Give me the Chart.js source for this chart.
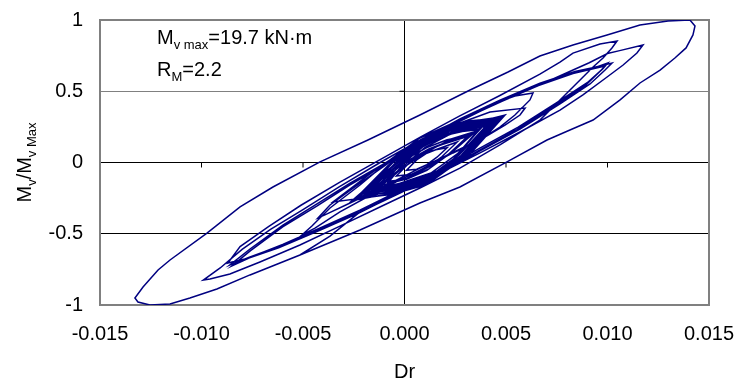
<!DOCTYPE html>
<html>
<head>
<meta charset="utf-8">
<script src="https://cdn.jsdelivr.net/npm/chart.js@4.4.0/dist/chart.umd.min.js"></script>
<style>
  html, body { margin: 0; padding: 0; background: #fff; }
  canvas { display: block; }
</style>
</head>
<body>
<canvas id="loops" width="738" height="384"></canvas>
<script>
// drift ratio Dr vs normalised moment Mv/Mv max in load order

// small cycles in the dense core
const smallCycles = [
  [0.0000, 0.000], [0.0007, 0.045], [0.0014, 0.085],
  [0.0021, 0.104], [0.0016, 0.037], [0.0011, -0.015], [0.0006, -0.047], [0.0001, -0.054], [0.0006, 0.018], [0.0011, 0.065], [0.0016, 0.093],
  [0.0026, 0.144], [0.00185, 0.042], [0.0011, -0.035], [0.00035, -0.082], [-0.0004, -0.094], [0.00035, 0.014], [0.0011, 0.085], [0.00185, 0.126],
  [0.0031, 0.183], [0.0021, 0.048], [0.0011, -0.055], [0.0001, -0.118], [-0.0009, -0.133], [-0.0001, 0.010], [0.0011, 0.105], [0.0021, 0.160],
  [0.0032, 0.190], [0.0022, 0.060], [0.0012, -0.045], [0.0002, -0.110], [-0.0008, -0.140], [0.0000, 0.000], [0.0012, 0.095], [0.0022, 0.150],
  [0.0034, 0.205], [0.0024, 0.080], [0.0012, -0.030], [0.0000, -0.120], [-0.0011, -0.160], [-0.0001, -0.040], [0.0011, 0.075], [0.0023, 0.165],
  [0.0036, 0.223], [0.00235, 0.014], [0.0011, -0.115], [-0.00015, -0.154], [-0.0014, -0.173], [-0.00015, 0.006], [0.0011, 0.145], [0.00235, 0.214],
  [0.0038, 0.245], [0.0026, 0.060], [0.0013, -0.075], [0.0001, -0.135], [-0.0015, -0.190], [-0.0003, -0.055], [0.0010, 0.105], [0.0024, 0.210],
  [0.0037, 0.232], [0.0025, 0.035], [0.0012, -0.100], [0.0000, -0.140], [-0.0013, -0.185], [-0.0002, -0.015], [0.0010, 0.130], [0.0023, 0.200],
  [0.0040, 0.255], [0.0027, 0.055], [0.0014, -0.090], [-0.0001, -0.160], [-0.0017, -0.205], [-0.0005, -0.060], [0.0009, 0.110], [0.0024, 0.220],
  [0.0041, 0.262], [0.0026, 0.020], [0.0011, -0.135], [-0.0004, -0.190], [-0.0019, -0.212], [-0.0004, 0.003], [0.0011, 0.165], [0.0026, 0.248],
  [0.0043, 0.280], [0.0030, 0.070], [0.0015, -0.085], [0.0000, -0.150], [-0.0020, -0.230], [-0.0008, -0.075], [0.0007, 0.100], [0.0023, 0.225],
  [0.0042, 0.270], [0.0028, 0.045], [0.0013, -0.115], [-0.0002, -0.175], [-0.0018, -0.225], [-0.0006, -0.030], [0.0009, 0.145], [0.0025, 0.235],
  [0.0045, 0.298], [0.0031, 0.080], [0.0016, -0.070], [0.0001, -0.140], [-0.0021, -0.240], [-0.0009, -0.085], [0.0006, 0.090], [0.0022, 0.220],
  [0.0044, 0.285], [0.0028, 0.030], [0.0011, -0.145], [-0.0005, -0.205], [-0.0022, -0.238], [-0.0006, -0.005], [0.0011, 0.175], [0.0028, 0.265],
  [0.0046, 0.310], [0.0029, 0.060], [0.0012, -0.120], [-0.0004, -0.195], [-0.0023, -0.250], [-0.0007, -0.045], [0.0010, 0.150], [0.0027, 0.265],
  [0.0046, 0.302], [0.00285, 0.025], [0.0011, -0.155], [-0.00065, -0.225], [-0.0024, -0.252], [-0.00065, -0.001], [0.0011, 0.185], [0.00285, 0.281],
  [0.0048, 0.320], [0.0033, 0.090], [0.0017, -0.060], [0.0002, -0.130], [-0.0024, -0.260], [-0.0011, -0.105], [0.0005, 0.080], [0.0022, 0.230],
  [0.0047, 0.315], [0.0030, 0.045], [0.0012, -0.140], [-0.0006, -0.215], [-0.0025, -0.265], [-0.0008, -0.020], [0.0010, 0.170], [0.0028, 0.275],
  [0.0047, 0.318], [0.0031, 0.065], [0.0014, -0.105], [-0.0003, -0.185], [-0.0026, -0.270], [-0.0012, -0.100], [0.0004, 0.085], [0.0021, 0.225],
  [0.0049, 0.325], [0.0034, 0.100], [0.0019, -0.045], [0.0003, -0.120], [-0.0023, -0.245], [-0.0005, -0.015], [0.0012, 0.180], [0.0030, 0.290],
  [0.0048, 0.312], [0.0032, 0.070], [0.0016, -0.085], [0.0000, -0.160], [-0.0025, -0.258], [-0.0009, -0.060], [0.0008, 0.125], [0.0026, 0.250],
  [0.00495, 0.333], [0.0032, 0.055], [0.0013, -0.130], [-0.0010, -0.230], [-0.00352, -0.277], [-0.0018, -0.090], [0.0002, 0.110], [0.0024, 0.260]
];

// two cycles around +-0.005
const midCycles = [
  [0.00421, 0.354], [0.00594, 0.382],
  [0.00569, 0.333], [0.00495, 0.263], [0.00396, 0.179], [0.00244, 0.074], [0.00076, -0.039], [-0.00096, -0.165], [-0.00268, -0.284], [-0.00392, -0.368], [-0.00426, -0.389],
  [-0.00367, -0.298], [-0.00219, -0.144], [-0.00071, 0.004], [0.00076, 0.144], [0.00244, 0.270], [0.00406, 0.396], [0.00544, 0.467], [0.00633, 0.488],
  [0.00618, 0.439], [0.00544, 0.333], [0.0047, 0.249], [0.00372, 0.158], [0.00239, 0.067], [0.00076, -0.053], [-0.00121, -0.193], [-0.00318, -0.347], [-0.00441, -0.460], [-0.00505, -0.509],
  [-0.00456, -0.446], [-0.00367, -0.319], [-0.00219, -0.158], [-0.00071, 0.018], [0.00076, 0.172]
];

// three cycles around +0.010 / -0.0086
const largeCycles = [
  [0.00273, 0.298], [0.0047, 0.432], [0.00667, 0.551], [0.0084, 0.635], [0.00963, 0.677], [0.01022, 0.698],
  [0.00988, 0.649], [0.00914, 0.551], [0.00766, 0.411], [0.00569, 0.235], [0.00372, 0.081], [0.00175, -0.074], [-0.00022, -0.214], [-0.00219, -0.347], [-0.00416, -0.467], [-0.00613, -0.586], [-0.00761, -0.663], [-0.0086, -0.719],
  [-0.00761, -0.607], [-0.00599, -0.439], [-0.00431, -0.291], [-0.00268, -0.144], [-0.00096, -0.004], [0.00076, 0.151], [0.00273, 0.305], [0.0047, 0.438], [0.00667, 0.556], [0.0084, 0.638], [0.0095, 0.672], [0.01002, 0.698],
  [0.00975, 0.655], [0.0090, 0.560], [0.0075, 0.420], [0.0056, 0.248], [0.0036, 0.092], [0.0017, -0.062], [-0.0003, -0.202], [-0.0022, -0.335], [-0.0041, -0.455], [-0.0060, -0.575], [-0.0075, -0.660], [-0.0085, -0.726],
  [-0.0076, -0.620], [-0.0060, -0.452], [-0.0043, -0.305], [-0.0027, -0.158], [-0.0010, -0.018], [0.0007, 0.138], [0.0027, 0.287], [0.0046, 0.420], [0.0066, 0.540], [0.0083, 0.625], [0.0094, 0.662], [0.00988, 0.677],
  [0.0096, 0.635], [0.0089, 0.540], [0.0074, 0.400], [0.0055, 0.228], [0.0035, 0.070], [0.0016, -0.082], [-0.0004, -0.224], [-0.0023, -0.358], [-0.0042, -0.478], [-0.0062, -0.598], [-0.0077, -0.672], [-0.0087, -0.705]
];

// two cycles to about +0.011 / -0.0099
const upperCycles = [
  [-0.0081, -0.590], [-0.0067, -0.450], [-0.0051, -0.300], [-0.0032, -0.140], [-0.0012, 0.020], [0.0008, 0.180], [0.0027, 0.325], [0.0047, 0.470], [0.00667, 0.620], [0.00766, 0.705], [0.0083, 0.768], [0.00963, 0.832], [0.01047, 0.853],
  [0.01022, 0.804], [0.00978, 0.733], [0.00929, 0.670], [0.0085, 0.558], [0.00766, 0.439], [0.00667, 0.298], [0.0047, 0.123], [0.00273, -0.039], [0.00076, -0.179], [-0.00121, -0.312], [-0.00318, -0.446], [-0.00515, -0.579], [-0.00712, -0.698], [-0.0086, -0.782], [-0.00958, -0.818], [-0.00991, -0.825],
  [-0.00908, -0.740], [-0.0080, -0.610], [-0.0066, -0.470], [-0.0050, -0.330], [-0.0032, -0.170], [-0.0012, 0.000], [0.0008, 0.160], [0.0028, 0.300], [0.0048, 0.430], [0.0066, 0.540], [0.0080, 0.630], [0.0091, 0.700], [0.0100, 0.765], [0.0106, 0.785], [0.01175, 0.825],
  [0.01145, 0.768], [0.01077, 0.684], [0.00998, 0.600], [0.00879, 0.474], [0.00766, 0.368], [0.00569, 0.214], [0.00372, 0.067], [0.00175, -0.074], [-0.00022, -0.207], [-0.00219, -0.347], [-0.00367, -0.516], [-0.00515, -0.649]
];

// final cycle to +-0.014
const finalCycle = [
  [-0.00761, -0.789], [-0.00924, -0.888], [-0.01057, -0.951], [-0.01155, -0.993], [-0.01254, -1.000], [-0.01313, -0.979], [-0.01328, -0.951],
  [-0.01288, -0.874], [-0.01214, -0.754], [-0.01155, -0.684], [-0.00973, -0.495], [-0.0081, -0.312], [-0.00648, -0.172], [-0.00416, 0.004], [-0.0018, 0.158],
  [0.00076, 0.333], [0.00323, 0.509], [0.0051, 0.635], [0.00667, 0.747], [0.0083, 0.825], [0.00998, 0.895], [0.0116, 0.965], [0.01298, 0.993], [0.01406, 1.000], [0.01431, 0.958],
  [0.01421, 0.895], [0.01387, 0.804], [0.01332, 0.733], [0.01259, 0.649], [0.0116, 0.558], [0.01062, 0.439], [0.00929, 0.298], [0.00815, 0.228], [0.00702, 0.158],
  [0.00505, 0.004], [0.00273, -0.172], [0.00076, -0.284], [-0.00219, -0.474], [-0.00515, -0.649]
];

const xTicks = [-0.015, -0.010, -0.005, 0, 0.005, 0.010, 0.015];
const yTicks = [-1, -0.5, 0, 0.5, 1];

const FONT = "'Liberation Sans', Arial, sans-serif";

const allPoints = [...smallCycles, ...midCycles, ...largeCycles, ...upperCycles, ...finalCycle];

// draw a run of text pieces, some of them as subscripts
function drawRich(ctx, parts, x, y) {
  let cx = x;
  parts.forEach(p => {
    ctx.font = p.sub ? `13px ${FONT}` : `20px ${FONT}`;
    ctx.fillText(p.t, cx, p.sub ? y + 5 : y);
    cx += ctx.measureText(p.t).width;
  });
  return cx - x;
}

function richWidth(ctx, parts) {
  let w = 0;
  parts.forEach(p => {
    ctx.font = p.sub ? `13px ${FONT}` : `20px ${FONT}`;
    w += ctx.measureText(p.t).width;
  });
  return w;
}

const excelFrame = {
  id: 'excelFrame',
  beforeDatasetsDraw(chart) {
    const { ctx, chartArea: a, scales: { x, y } } = chart;
    const x0 = x.getPixelForValue(0);
    const y0 = y.getPixelForValue(0);
    ctx.save();
    ctx.strokeStyle = '#000';
    ctx.lineWidth = 1;
    ctx.beginPath();
    ctx.moveTo(a.left, y0); ctx.lineTo(a.right, y0);
    ctx.moveTo(x0, a.top); ctx.lineTo(x0, a.bottom);
    xTicks.forEach(v => {
      const px = x.getPixelForValue(v);
      ctx.moveTo(px, y0); ctx.lineTo(px, y0 + 5);
    });
    yTicks.forEach(v => {
      const py = y.getPixelForValue(v);
      ctx.moveTo(x0 - 5, py); ctx.lineTo(x0, py);
    });
    ctx.stroke();
    ctx.strokeStyle = '#808080';
    ctx.lineWidth = 2;
    ctx.strokeRect(a.left, a.top, a.right - a.left, a.bottom - a.top);
    ctx.restore();
  },
  afterDraw(chart) {
    const { ctx, chartArea: a } = chart;
    ctx.save();
    ctx.fillStyle = '#000';
    ctx.textBaseline = 'alphabetic';
    ctx.textAlign = 'left';
    drawRich(ctx, [{ t: 'M' }, { t: 'v max', sub: true }, { t: '=19.7 kN·m' }], a.left + 57, a.top + 24);
    drawRich(ctx, [{ t: 'R' }, { t: 'M', sub: true }, { t: '=2.2' }], a.left + 57, a.top + 56);

    // x title
    ctx.font = `20px ${FONT}`;
    ctx.textAlign = 'center';
    ctx.fillText('Dr', (a.left + a.right) / 2, 378);

    // y title, rotated
    const yParts = [{ t: 'M' }, { t: 'v', sub: true }, { t: '/M' }, { t: 'v Max', sub: true }];
    ctx.textAlign = 'left';
    const w = richWidth(ctx, yParts);
    ctx.translate(31, (a.top + a.bottom) / 2);
    ctx.rotate(-Math.PI / 2);
    drawRich(ctx, yParts, -w / 2, 0);
    ctx.restore();
  }
};

const tickFont = { family: FONT, size: 20 };

new Chart(document.getElementById('loops').getContext('2d'), {
  type: 'scatter',
  data: {
    datasets: [{
      data: allPoints.map(([x, y]) => ({ x, y })),
      showLine: true,
      borderColor: '#000080',
      borderWidth: 1.5,
      pointRadius: 0,
      tension: 0,
      fill: false
    }]
  },
  options: {
    responsive: false,
    animation: false,
    devicePixelRatio: 1,
    layout: { padding: { top: 20, right: 29, left: 0, bottom: 0 } },
    plugins: { legend: { display: false }, tooltip: { enabled: false } },
    scales: {
      x: {
        type: 'linear',
        min: -0.015,
        max: 0.015,
        afterBuildTicks: s => { s.ticks = xTicks.map(v => ({ value: v })); },
        afterFit: s => { s.height = 79; s.paddingLeft = 0; s.paddingRight = 0; },
        grid: { display: false, drawTicks: false },
        border: { display: false },
        ticks: { font: tickFont, color: '#000', padding: 17, maxRotation: 0, callback: v => Number(v).toFixed(3) }
      },
      y: {
        type: 'linear',
        min: -1,
        max: 1,
        afterBuildTicks: s => { s.ticks = yTicks.map(v => ({ value: v })); },
        afterFit: s => { s.width = 100; s.paddingTop = 0; s.paddingBottom = 0; },
        grid: {
          drawTicks: false,
          lineWidth: 1,
          color: c => c.tick && c.tick.value === 0.5 ? '#808080' : (c.tick && c.tick.value === -0.5 ? '#000' : 'rgba(0,0,0,0)')
        },
        border: { display: false },
        ticks: { font: tickFont, color: '#000', padding: 17, callback: v => String(v) }
      }
    }
  },
  plugins: [excelFrame]
});
</script>
</body>
</html>
